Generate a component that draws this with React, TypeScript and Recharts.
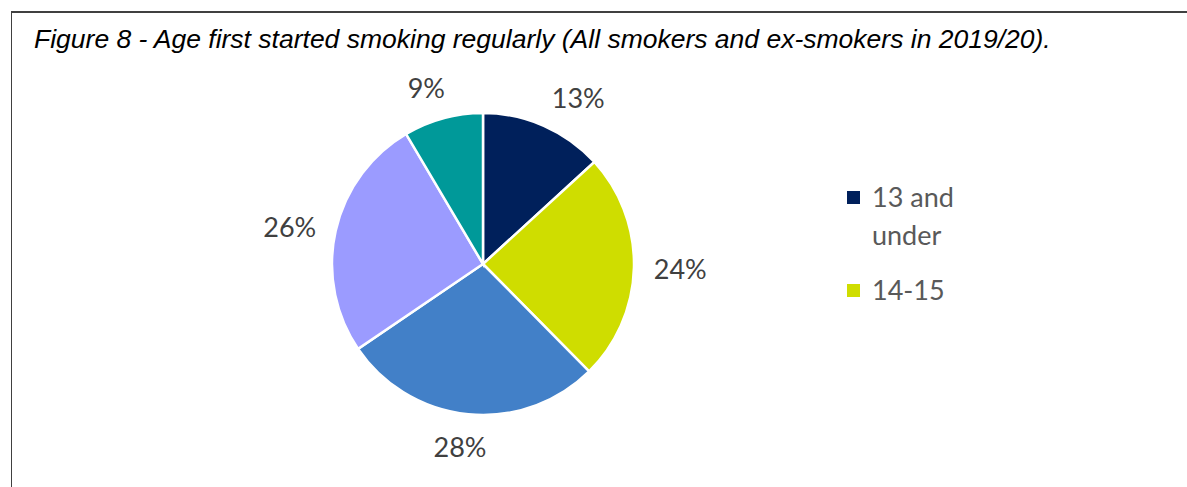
import React from "react";
import { PieChart, Pie, Cell, Legend } from "recharts";

const titleText = "Figure 8 - Age first started smoking regularly (All smokers and ex-smokers in 2019/20).";
const categories = ["13 and under", "14-15", "16-17", "18-19", "20 and over"];
const shares = [13.2, 24.4, 27.9, 26.0, 8.5];
const sliceColors = ["#00205B", "#CFDD00", "#4280C8", "#9B9BFF", "#009999"];
const legendShown = 2;

const data = categories.map((name, i) => ({ name, value: shares[i] }));

const LABEL_FONT = 27;

const renderLabel = (props: any) => {
  const { cx, cy, midAngle, outerRadius, value } = props;
  const rad = (midAngle * Math.PI) / 180;
  const dx = Math.cos(rad);
  const dy = -Math.sin(rad);
  const gap = 20;
  const px = cx + (outerRadius + gap) * dx;
  const py = cy + (outerRadius + gap) * dy;
  const text = `${Math.round(value)}%`;
  const w = text.length * LABEL_FONT * 0.65;
  const h = LABEL_FONT * 0.9;
  const clamp = (v: number) => Math.max(-1, Math.min(1, v));
  const x = px + (w / 2) * clamp(2.5 * dx);
  const y = py + (h / 2) * dy * Math.abs(dy);
  return (
    <text
      x={x}
      y={y}
      fill="#404040"
      textAnchor="middle"
      dominantBaseline="central"
      style={{ fontFamily: "Lato, 'Open Sans', sans-serif", fontSize: LABEL_FONT }}
    >
      {text}
    </text>
  );
};

const renderLegend = () => (
  <div style={{ fontFamily: "Lato, 'Open Sans', sans-serif", fontSize: 27, color: "#595959" }}>
    {categories.slice(0, legendShown).map((c, i) => (
      <div key={c} style={{ display: "flex", alignItems: "flex-start", marginBottom: 17 }}>
        <div
          style={{
            width: 13,
            height: 13,
            background: sliceColors[i],
            marginTop: 13,
            marginRight: 12,
            flex: "0 0 auto",
          }}
        />
        <div style={{ width: 100, lineHeight: "38px" }}>{c}</div>
      </div>
    ))}
  </div>
);

export default function App() {
  return (
    <div style={{ position: "absolute", left: 0, top: 0, width: 1187, height: 487, background: "#fff", overflow: "hidden" }}>
      <div
        style={{
          position: "absolute",
          left: 11,
          top: 11,
          width: 1200,
          height: 500,
          borderTop: "2px solid #404040",
          borderLeft: "1.5px solid #404040",
        }}
      />
      <div
        style={{
          position: "absolute",
          left: 34,
          top: 26,
          fontFamily: "'Liberation Sans', Arial, sans-serif",
          fontStyle: "italic",
          fontSize: 26.5,
          lineHeight: 1,
          color: "#000",
          whiteSpace: "nowrap",
        }}
      >
        {titleText}
      </div>
      <div style={{ position: "absolute", left: 0, top: 0 }}>
        <PieChart width={1187} height={487}>
          <Pie
            data={data}
            dataKey="value"
            nameKey="name"
            cx={478}
            cy={259}
            outerRadius={151}
            startAngle={90}
            endAngle={-270}
            stroke="#ffffff"
            strokeWidth={2.5}
            label={renderLabel}
            labelLine={false}
            isAnimationActive={false}
          >
            {data.map((d, i) => (
              <Cell key={d.name} fill={sliceColors[i]} />
            ))}
          </Pie>
          <Legend
            content={renderLegend}
            layout="vertical"
            wrapperStyle={{ position: "absolute", left: 847, top: 178, width: 160 }}
          />
        </PieChart>
      </div>
    </div>
  );
}
